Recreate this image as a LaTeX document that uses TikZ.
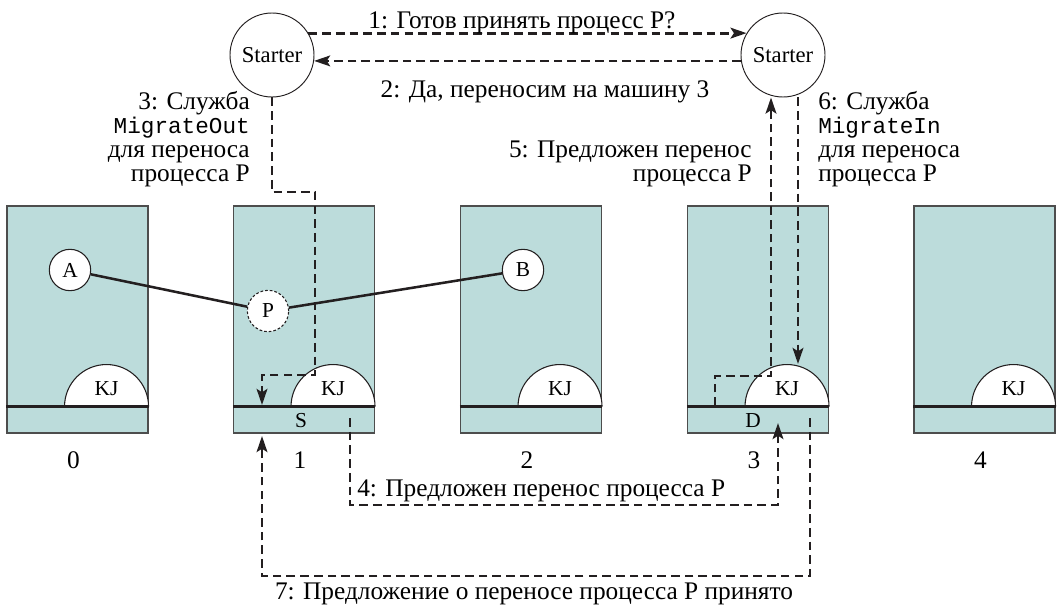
\documentclass[tikz,border=0pt]{standalone}
\usepackage{fontspec}
\setmainfont{Liberation Serif}
\setmonofont{Liberation Mono}
\usetikzlibrary{arrows.meta, positioning, calc}
\definecolor{machine}{HTML}{BCDCDB}
\definecolor{frame}{HTML}{4D4D4D}
\definecolor{ink}{HTML}{231F20}
\newcommand\code[1]{{\fontsize{17}{18}\selectfont\texttt{#1}}}

\begin{document}
\begin{tikzpicture}[x=0.75pt, y=-0.75pt,
    mach/.style={draw=frame, line width=0.8pt, fill=machine, minimum width=105.75pt, minimum height=170.25pt, inner sep=0},
    st/.style={draw=ink, line width=0.7pt, circle, minimum size=63pt, inner sep=0, fill=white, font=\fontsize{17}{17}\selectfont},
    pr/.style={draw=ink, line width=0.8pt, circle, minimum size=31pt, inner sep=0, fill=white, font=\fontsize{16}{16}\selectfont},
    sm/.style={inner sep=0, font=\fontsize{16}{16}\selectfont},
    lbl/.style={inner sep=0, font=\fontsize{19}{18}\selectfont},
    half/.style={draw=ink, line width=0.8pt, fill=white},
    sep/.style={draw=ink, line width=1.8pt},
    link/.style={draw=ink, line width=1.9pt},
    msg/.style={draw=ink, line width=2.1pt, dash pattern=on 6.5pt off 3.8pt},
    >={Stealth[length=12pt, width=8pt, inset=2.5pt]}]
\useasboundingbox (0,0) rectangle (1061,606);
% machines
\node[mach] (m0) at (77.5,319.5) {};
\node[mach] (m1) at (304,319.5) {};
\node[mach] (m2) at (531,319.5) {};
\node[mach] (m3) at (758,319.5) {};
\node[mach] (m4) at (984.5,319.5) {};
% kernel halves and separator lines
\coordinate (k0) at ($(m0.south east)+(-42,-27)$);
\coordinate (k1) at ($(m1.south east)+(-42,-27)$);
\coordinate (k2) at ($(m2.south east)+(-42,-27)$);
\coordinate (k3) at ($(m3.south east)+(-42,-27)$);
\coordinate (k4) at ($(m4.south east)+(-42,-27)$);
\draw[half] ($(k0)+(42,0)$) arc[start angle=0, end angle=180, radius=31.5pt];
\draw[half] ($(k1)+(42,0)$) arc[start angle=0, end angle=180, radius=31.5pt];
\draw[half] ($(k2)+(42,0)$) arc[start angle=0, end angle=180, radius=31.5pt];
\draw[half] ($(k3)+(42,0)$) arc[start angle=0, end angle=180, radius=31.5pt];
\draw[half] ($(k4)+(42,0)$) arc[start angle=0, end angle=180, radius=31.5pt];
\draw[sep] (m0.west |- k0) -- (m0.east |- k0);
\draw[sep] (m1.west |- k1) -- (m1.east |- k1);
\draw[sep] (m2.west |- k2) -- (m2.east |- k2);
\draw[sep] (m3.west |- k3) -- (m3.east |- k3);
\draw[sep] (m4.west |- k4) -- (m4.east |- k4);
\node[sm] (kj0) at ($(k0)+(0,-18)$) {KJ};
\node[sm] (kj1) at ($(k1)+(0,-18)$) {KJ};
\node[sm] (kj2) at ($(k2)+(0,-18)$) {KJ};
\node[sm] (kj3) at ($(k3)+(0,-18)$) {KJ};
\node[sm] (kj4) at ($(k4)+(0,-18)$) {KJ};
\node[sm] (src) at (301,421) {S};
\node[sm] (dst) at (753,421) {D};
\node[lbl, anchor=base] (n0) at ($(m0.south)+(-4,35)$) {0};
\node[lbl, anchor=base] (n1) at ($(m1.south)+(-4,35)$) {1};
\node[lbl, anchor=base] (n2) at ($(m2.south)+(-4,35)$) {2};
\node[lbl, anchor=base] (n3) at ($(m3.south)+(-4,35)$) {3};
\node[lbl, anchor=base] (n4) at ($(m4.south)+(-4,35)$) {4};
% processes
\node[pr] (pA) at (70,270) {A};
\node[pr, dash pattern=on 2pt off 1.5pt] (pP) at (268,311) {P};
\node[pr] (pB) at (523,270) {B};
\draw[link] (pA) -- (pP) -- (pB);
% starters
\node[st] (st1) at (272,55) {Starter};
\node[st] (st3) at (783,55) {Starter};
% message points
\coordinate (c3a) at (315,192);
\coordinate (c3b) at (262,375);
\coordinate (c3c) at (262,405);
\coordinate (c4a) at (350,418);
\coordinate (c4b) at (778,505);
\coordinate (c4c) at (778,423);
\coordinate (c5a) at (715,406);
\coordinate (c5b) at (771,376);
\coordinate (c6a) at (798,364);
\coordinate (c7a) at (810,418);
\coordinate (c7b) at (262,576);
\coordinate (c7c) at (262,436);
% messages
\draw[msg, ->] (st1.31) -- (st3.149);
\draw[msg, ->] (st3.188) -- (st1.-8);
\draw[msg, ->] (st1.south) |- (c3a) |- (c3b) -- (c3c);
\draw[msg, ->] (c4a) |- (c4b) -- (c4c);
\draw[msg, ->] (c5a) |- (c5b) -- (c5b |- st3.south);
\draw[msg, ->] (c6a |- st3.south) -- (c6a);
\draw[msg, ->] (c7a) |- (c7b) -- (c7c);
% message labels
\node[lbl, anchor=base] (t1) at (522,29) {1: Готов принять процесс P?};
\node[lbl, anchor=base] (t2) at (545,98) {2: Да, переносим на машину 3};
\node[lbl, anchor=base east, align=right] (t3) at (250,182) {3: Служба\\\code{MigrateOut}\\для переноса\\процесса P};
\node[lbl, anchor=base west] (t4) at (357,496) {4: Предложен перенос процесса P};
\node[lbl, anchor=base east, align=right] (t5) at (752,182) {5: Предложен перенос\\процесса P};
\node[lbl, anchor=base west, align=left] (t6) at (818,182) {6: Служба\\\code{MigrateIn}\\для переноса\\процесса P};
\node[lbl, anchor=base] (t7) at (534,599) {7: Предложение о переносе процесса P принято};
\end{tikzpicture}
\end{document}
